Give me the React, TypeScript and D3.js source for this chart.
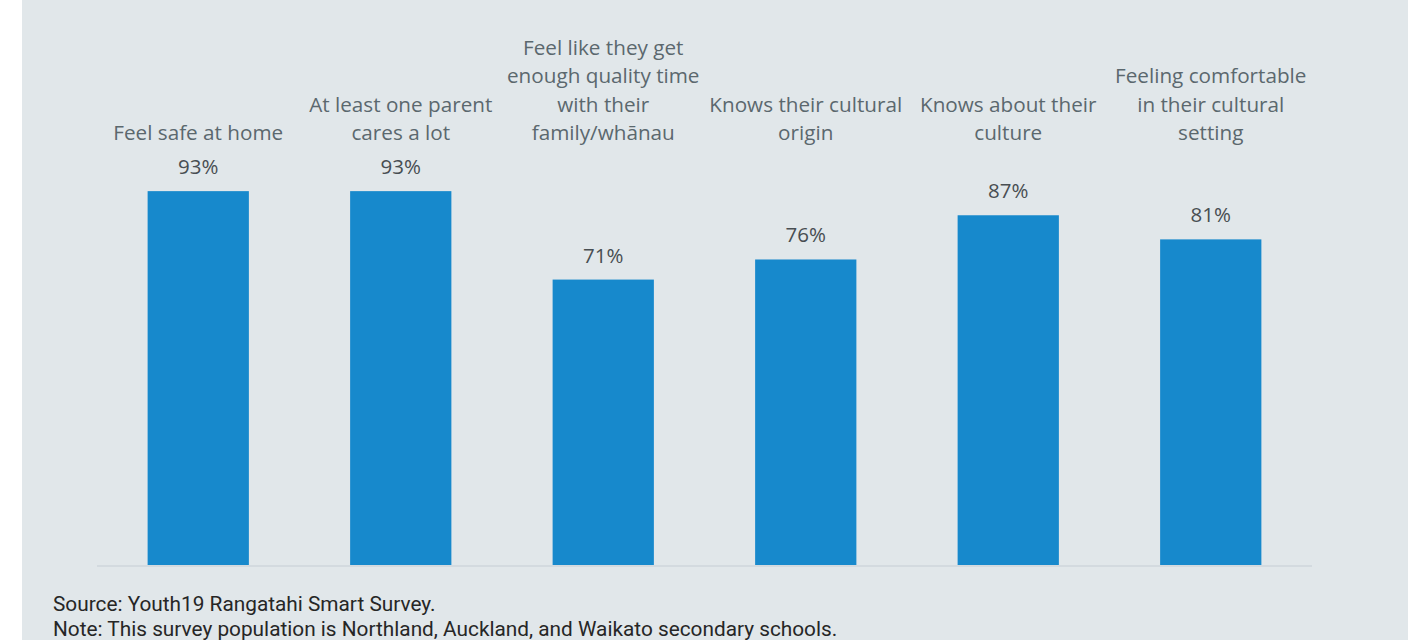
import React from "react";
import * as d3 from "d3";

const categories: string[] = [
  "Feel safe at home",
  "At least one parent\ncares a lot",
  "Feel like they get\nenough quality time\nwith their\nfamily/whānau",
  "Knows their cultural\norigin",
  "Knows about their\nculture",
  "Feeling comfortable\nin their cultural\nsetting",
];
const values: number[] = [93, 93, 71, 76, 87, 81];
const sourceText = "Source: Youth19 Rangatahi Smart Survey.";
const noteText = "Note: This survey population is Northland, Auckland, and Waikato secondary schools.";

const W = 1423;
const H = 640;

export default function App() {
  const x = d3.scaleBand<number>().domain(d3.range(categories.length)).range([97, 1312]).paddingInner(0.5).paddingOuter(0.25);
  const y = d3.scaleLinear().domain([0, 100]).range([565, 163]);
  const labelFont = "'Open Sans', 'Noto Sans', sans-serif";
  return (
    <svg width={W} height={H} style={{ position: "absolute", left: 0, top: 0, display: "block" }}>
      <rect x={0} y={0} width={W} height={H} fill="#ffffff" />
      <rect x={22} y={0} width={1386} height={H} fill="#e1e7ea" />
      <line x1={97} x2={1312} y1={566} y2={566} stroke="#d3dadf" strokeWidth={2} />
      {values.map((v, i) => {
        const bx = x(i)!;
        const cx = bx + x.bandwidth() / 2;
        const lines = categories[i].split("\n");
        return (
          <g key={i}>
            <rect x={bx} y={y(v)} width={x.bandwidth()} height={y(0) - y(v)} fill="#1789cc" />
            <text x={cx} y={y(v) - 17} textAnchor="middle" fontFamily={labelFont} fontSize={20.5} fill="#484e52">
              {v}%
            </text>
            <text textAnchor="middle" fontFamily={labelFont} fontSize={20.7} fill="#5b686e">
              {lines.map((l, j) => (
                <tspan key={j} x={cx} y={140 - (lines.length - 1 - j) * 28.5}>
                  {l}
                </tspan>
              ))}
            </text>
          </g>
        );
      })}
      <text x={53} y={611} fontFamily="Roboto, sans-serif" fontSize={20.8} fill="#262626">
        {sourceText}
      </text>
      <text x={53} y={636} fontFamily="Roboto, sans-serif" fontSize={20.8} fill="#262626">
        {noteText}
      </text>
    </svg>
  );
}
